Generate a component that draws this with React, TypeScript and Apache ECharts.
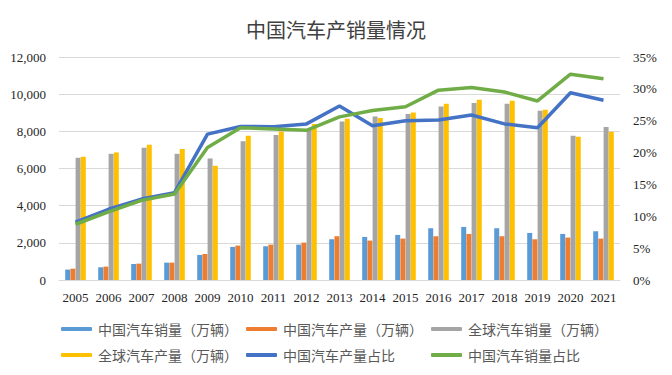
import React, { useEffect, useRef } from "react";
import * as echarts from "echarts";

const years = ["2005","2006","2007","2008","2009","2010","2011","2012","2013","2014","2015","2016","2017","2018","2019","2020","2021"];
const cnSales = [560, 683, 862, 934, 1348, 1779, 1815, 1904, 2192, 2318, 2426, 2785, 2857, 2785, 2533, 2479, 2623];
const cnProd = [610, 719, 880, 934, 1401, 1851, 1904, 2012, 2354, 2120, 2228, 2354, 2479, 2354, 2192, 2282, 2228];
const globalSales = [6576, 6791, 7115, 6791, 6540, 7461, 7800, 8120, 8535, 8804, 8929, 9343, 9522, 9486, 9109, 7762, 8229];
const globalProd = [6630, 6863, 7277, 7043, 6145, 7766, 7990, 8400, 8678, 8713, 9019, 9486, 9702, 9648, 9163, 7708, 7977];
const cnProdShare = [9.1, 11.1, 12.7, 13.7, 22.9, 24.1, 24.05, 24.5, 27.3, 24.2, 25.0, 25.1, 25.9, 24.5, 23.9, 29.4, 28.2];
const cnSalesShare = [8.75, 10.7, 12.5, 13.5, 20.8, 23.9, 23.7, 23.5, 25.6, 26.6, 27.2, 29.8, 30.2, 29.5, 28.1, 32.3, 31.6];
const leftTicks = { min: 0, max: 12000, interval: 2000 };
const rightTicks = { min: 0, max: 35, interval: 5 };

const names = [
  "中国汽车销量（万辆）",
  "中国汽车产量（万辆）",
  "全球汽车销量（万辆）",
  "全球汽车产量（万辆）",
  "中国汽车产量占比",
  "中国汽车销量占比",
];
const colors = ["#5B9BD5", "#ED7D31", "#A5A5A5", "#FFC000", "#4472C4", "#70AD47"];

export default function App() {
  const ref = useRef<HTMLDivElement>(null);
  useEffect(() => {
    if (!ref.current) return;
    const chart = echarts.init(ref.current, undefined, { renderer: "svg" });
    const serif = "'Liberation Serif', 'Times New Roman', serif";
    const cjk = "'Noto Sans CJK SC', sans-serif";
    const legendBase = (left: number, data: string[]) => ({
      orient: "vertical",
      left,
      top: 321,
      itemWidth: 31,
      itemHeight: 4,
      itemGap: 10,
      icon: "roundRect",
      padding: 0,
      data,
      textStyle: { fontFamily: cjk, fontSize: 14, color: "#595959", lineHeight: 16, padding: [0, 0, 0, 1] },
    });
    const barSeries = (i: number, data: number[]) => ({
      name: names[i],
      type: "bar",
      data,
      barWidth: 5,
      barGap: "4%",
      itemStyle: { color: colors[i] },
    });
    const lineSeries = (i: number, data: number[]) => ({
      name: names[i],
      type: "line",
      yAxisIndex: 1,
      data,
      symbol: "none",
      lineStyle: { color: colors[i], width: 3.5 },
      itemStyle: { color: colors[i] },
      z: 5,
    });
    chart.setOption({
      animation: false,
      backgroundColor: "#ffffff",
      title: {
        text: "中国汽车产销量情况",
        left: "center",
        top: 14,
        textStyle: { fontFamily: cjk, fontSize: 20, fontWeight: "normal", color: "#404040" },
      },
      legend: [
        legendBase(61, [names[0], names[3]]),
        legendBase(246, [names[1], names[4]]),
        legendBase(431, [names[2], names[5]]),
      ],
      grid: { left: 59, right: 52, top: 57, bottom: 95, containLabel: false },
      xAxis: {
        type: "category",
        data: years,
        axisTick: { show: false },
        axisLine: { lineStyle: { color: "#D9D9D9", width: 1 } },
        axisLabel: { fontFamily: serif, fontSize: 13, color: "#262626", margin: 11, interval: 0 },
      },
      yAxis: [
        {
          type: "value",
          ...leftTicks,
          axisLine: { show: false },
          axisTick: { show: false },
          splitLine: { lineStyle: { color: "#D9D9D9", width: 1 } },
          axisLabel: {
            fontFamily: serif,
            fontSize: 13,
            color: "#262626",
            margin: 13,
            formatter: (v: number) => v.toLocaleString("en-US"),
          },
        },
        {
          type: "value",
          ...rightTicks,
          axisLine: { show: false },
          axisTick: { show: false },
          splitLine: { show: false },
          axisLabel: { fontFamily: serif, fontSize: 13, color: "#262626", margin: 13, formatter: "{value}%" },
        },
      ],
      series: [
        barSeries(0, cnSales),
        barSeries(1, cnProd),
        barSeries(2, globalSales),
        barSeries(3, globalProd),
        lineSeries(4, cnProdShare),
        lineSeries(5, cnSalesShare),
      ],
    });
    return () => chart.dispose();
  }, []);
  return <div ref={ref} style={{ width: 672, height: 375, position: "absolute", left: 0, top: 0 }} />;
}
